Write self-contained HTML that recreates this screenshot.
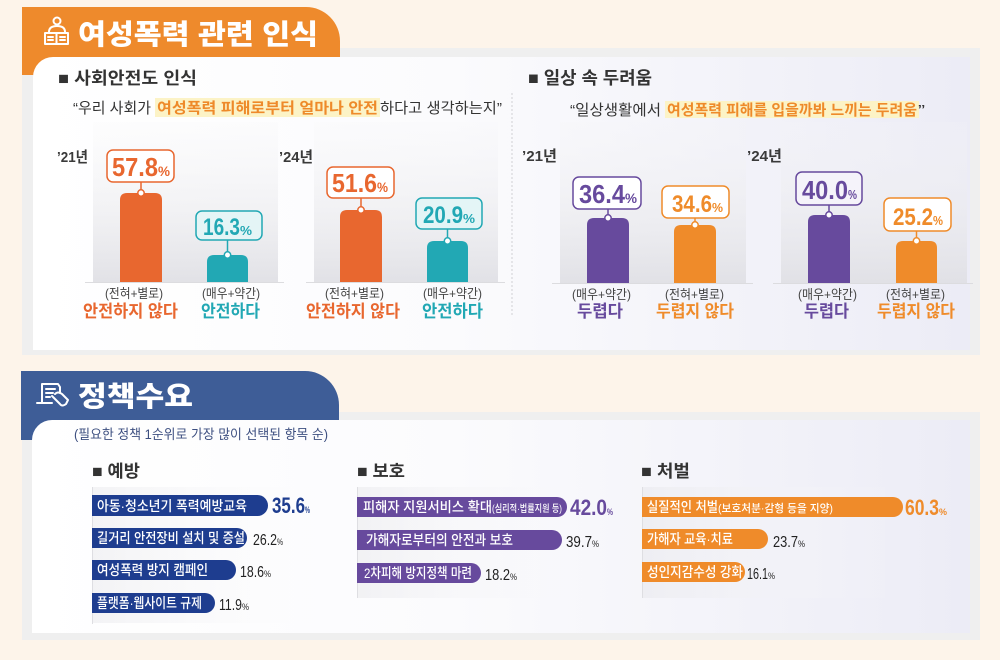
<!DOCTYPE html>
<html><head><meta charset="utf-8">
<style>
html,body{margin:0;padding:0;background:#fdf4ea;}
svg{display:block;}
text{font-family:"Liberation Sans","Noto Sans CJK KR",sans-serif;}
</style></head>
<body>
<svg width="1000" height="660" viewBox="0 0 1000 660" xmlns="http://www.w3.org/2000/svg">
<defs>
<linearGradient id="card" x1="0" y1="0" x2="1" y2="0">
<stop offset="0" stop-color="#ffffff"/><stop offset="0.45" stop-color="#fbfbfd"/><stop offset="1" stop-color="#ececf6"/>
</linearGradient>
<linearGradient id="pan" x1="0" y1="0" x2="0" y2="1">
<stop offset="0" stop-color="#f4f4f6" stop-opacity="0.15"/><stop offset="0.5" stop-color="#ececef" stop-opacity="0.6"/><stop offset="1" stop-color="#e0e0e5" stop-opacity="0.95"/>
</linearGradient>
<linearGradient id="rowg" x1="0" y1="0" x2="1" y2="0">
<stop offset="0" stop-color="#e6e6ea" stop-opacity="0.8"/><stop offset="1" stop-color="#ffffff" stop-opacity="0"/>
</linearGradient>
</defs>

<rect x="0" y="0" width="1000" height="660" fill="#fdf4ea"/>

<!-- TOP SECTION -->
<rect x="22" y="48" width="958" height="307" fill="#efefef"/>
<path d="M22,75 V7 H306 A34,34 0 0 1 340,41 V75 Z" fill="#ee8a2c"/>
<path d="M33,77 A20,20 0 0 1 53,57 H970 V350 H33 Z" fill="url(#card)"/>
<!-- icon -->
<g stroke="#fff" stroke-width="2" fill="none" stroke-linecap="round" stroke-linejoin="round">
<circle cx="57" cy="21" r="3.5"/>
<path d="M49,32 Q49,26 57,26 Q65,26 65,32"/>
<path d="M45,33 H68 V44 H45 Z"/>
<path d="M56.5,33 V44"/>
<path d="M48,37 H53 M48,40 H53 M60,37 H65 M60,40 H65"/>
</g>
<text x="78" y="44" font-size="28" font-weight="900" fill="#fff" textLength="240" lengthAdjust="spacingAndGlyphs">여성폭력 관련 인식</text>

<text x="58" y="84" font-size="17" font-weight="bold" fill="#333" textLength="139" lengthAdjust="spacingAndGlyphs">■ 사회안전도 인식</text>
<rect x="155" y="98" width="225" height="19" fill="#fcf3c6"/>
<text x="73" y="113" font-size="15" fill="#333" textLength="78" lengthAdjust="spacingAndGlyphs">“우리 사회가</text>
<text x="157" y="113" font-size="15" font-weight="bold" fill="#ee8a2a" textLength="221" lengthAdjust="spacingAndGlyphs">여성폭력 피해로부터 얼마나 안전</text>
<text x="380" y="113" font-size="15" fill="#333" textLength="122" lengthAdjust="spacingAndGlyphs">하다고 생각하는지”</text>

<text x="528" y="84" font-size="17.5" font-weight="bold" fill="#333" textLength="124" lengthAdjust="spacingAndGlyphs">■ 일상 속 두려움</text>
<rect x="665" y="101" width="254" height="17" fill="#fcf3c6"/>
<text x="570" y="115" font-size="15" fill="#333" textLength="91" lengthAdjust="spacingAndGlyphs">“일상생활에서</text>
<text x="667" y="115" font-size="15" font-weight="bold" fill="#ee8a2a" textLength="250" lengthAdjust="spacingAndGlyphs">여성폭력 피해를 입을까봐 느끼는 두려움</text>
<text x="918" y="115" font-size="15" fill="#333" textLength="7" lengthAdjust="spacingAndGlyphs">”</text>

<line x1="512" y1="93" x2="512" y2="317" stroke="#d0d0d4" stroke-width="1" stroke-dasharray="2,2"/>

<!-- panels -->
<rect x="93" y="122" width="185" height="160" fill="url(#pan)"/>
<rect x="314" y="122" width="184" height="160" fill="url(#pan)"/>
<rect x="560" y="122" width="186" height="161" fill="url(#pan)"/>
<rect x="781" y="122" width="186" height="161" fill="url(#pan)"/>
<line x1="85" y1="282.5" x2="284" y2="282.5" stroke="#dcdcdf"/>
<line x1="306" y1="282.5" x2="505" y2="282.5" stroke="#dcdcdf"/>
<line x1="552" y1="283.5" x2="753" y2="283.5" stroke="#dcdcdf"/>
<line x1="773" y1="283.5" x2="973" y2="283.5" stroke="#dcdcdf"/>

<!-- years -->
<g font-size="15" font-weight="bold" fill="#3a3a3a">
<text x="57" y="162" textLength="31" lengthAdjust="spacingAndGlyphs">’21년</text>
<text x="279" y="162" textLength="34" lengthAdjust="spacingAndGlyphs">’24년</text>
<text x="522" y="161" textLength="35" lengthAdjust="spacingAndGlyphs">’21년</text>
<text x="747" y="161" textLength="35" lengthAdjust="spacingAndGlyphs">’24년</text>
</g>

<!-- bars -->
<path d="M120,282 V200 Q120,193 127,193 H155 Q162,193 162,200 V282 Z" fill="#e8672f"/>
<path d="M207,282 V262 Q207,255 214,255 H241 Q248,255 248,262 V282 Z" fill="#22a8b4"/>
<path d="M340,282 V217 Q340,210 347,210 H375 Q382,210 382,217 V282 Z" fill="#e8672f"/>
<path d="M427,282 V248 Q427,241 434,241 H461 Q468,241 468,248 V282 Z" fill="#22a8b4"/>
<path d="M587,283 V225 Q587,218 594,218 H622 Q629,218 629,225 V283 Z" fill="#674a9d"/>
<path d="M674,283 V232 Q674,225 681,225 H709 Q716,225 716,232 V283 Z" fill="#ef8b2a"/>
<path d="M808,283 V222 Q808,215 815,215 H843 Q850,215 850,222 V283 Z" fill="#674a9d"/>
<path d="M896,283 V248 Q896,241 903,241 H930 Q937,241 937,248 V283 Z" fill="#ef8b2a"/>

<!-- value boxes -->
<g stroke-width="1.5">
<rect x="107" y="150" width="67" height="32" rx="6" fill="#fff" stroke="#e8672f"/>
<line x1="141" y1="182" x2="141" y2="193" stroke="#e8672f"/>
<circle cx="141" cy="193" r="3.2" fill="#fff" stroke="#e8672f"/>
<rect x="196" y="211" width="66" height="29" rx="6" fill="#e4f5f6" stroke="#22a8b4"/>
<line x1="227.5" y1="240" x2="227.5" y2="255" stroke="#22a8b4"/>
<circle cx="227.5" cy="255" r="3.2" fill="#fff" stroke="#22a8b4"/>
<rect x="327" y="167" width="67" height="31" rx="6" fill="#fff" stroke="#e8672f"/>
<line x1="361" y1="198" x2="361" y2="210" stroke="#e8672f"/>
<circle cx="361" cy="210" r="3.2" fill="#fff" stroke="#e8672f"/>
<rect x="416" y="198" width="66" height="31" rx="6" fill="#e4f5f6" stroke="#22a8b4"/>
<line x1="447.5" y1="229" x2="447.5" y2="241" stroke="#22a8b4"/>
<circle cx="447.5" cy="241" r="3.2" fill="#fff" stroke="#22a8b4"/>
<rect x="573" y="177" width="68" height="32" rx="6" fill="#fff" stroke="#674a9d"/>
<line x1="608" y1="209" x2="608" y2="218" stroke="#674a9d"/>
<circle cx="608" cy="218" r="3.2" fill="#fff" stroke="#674a9d"/>
<rect x="662" y="186" width="67" height="32" rx="6" fill="#fff" stroke="#ef8b2a"/>
<line x1="695" y1="218" x2="695" y2="225" stroke="#ef8b2a"/>
<circle cx="695" cy="225" r="3.2" fill="#fff" stroke="#ef8b2a"/>
<rect x="796" y="172" width="66" height="33" rx="6" fill="#f5f3fa" stroke="#674a9d"/>
<line x1="829" y1="205" x2="829" y2="215" stroke="#674a9d"/>
<circle cx="829" cy="215" r="3.2" fill="#fff" stroke="#674a9d"/>
<rect x="884" y="198" width="67" height="33" rx="6" fill="#fff" stroke="#ef8b2a"/>
<line x1="916.5" y1="231" x2="916.5" y2="241" stroke="#ef8b2a"/>
<circle cx="916.5" cy="241" r="3.2" fill="#fff" stroke="#ef8b2a"/>
</g>
<g font-weight="bold">
<text x="112" y="176" font-size="26" fill="#e8672f" textLength="46" lengthAdjust="spacingAndGlyphs">57.8</text>
<text x="158" y="176" font-size="14" fill="#e8672f" textLength="12" lengthAdjust="spacingAndGlyphs">%</text>
<text x="203" y="235" font-size="24" fill="#22a8b4" textLength="37" lengthAdjust="spacingAndGlyphs">16.3</text>
<text x="240" y="235" font-size="13" fill="#22a8b4" textLength="12" lengthAdjust="spacingAndGlyphs">%</text>
<text x="332" y="192" font-size="26" fill="#e8672f" textLength="45" lengthAdjust="spacingAndGlyphs">51.6</text>
<text x="377" y="192" font-size="14" fill="#e8672f" textLength="11" lengthAdjust="spacingAndGlyphs">%</text>
<text x="423" y="223" font-size="24" fill="#22a8b4" textLength="40" lengthAdjust="spacingAndGlyphs">20.9</text>
<text x="463" y="223" font-size="13" fill="#22a8b4" textLength="12" lengthAdjust="spacingAndGlyphs">%</text>
<text x="579" y="203" font-size="26" fill="#674a9d" textLength="46" lengthAdjust="spacingAndGlyphs">36.4</text>
<text x="625" y="203" font-size="14" fill="#674a9d" textLength="12" lengthAdjust="spacingAndGlyphs">%</text>
<text x="672" y="212" font-size="24" fill="#ef8b2a" textLength="40" lengthAdjust="spacingAndGlyphs">34.6</text>
<text x="712" y="212" font-size="13" fill="#ef8b2a" textLength="11" lengthAdjust="spacingAndGlyphs">%</text>
<text x="802" y="199" font-size="26" fill="#674a9d" textLength="46" lengthAdjust="spacingAndGlyphs">40.0</text>
<text x="848" y="199" font-size="13" fill="#674a9d" textLength="9" lengthAdjust="spacingAndGlyphs">%</text>
<text x="893" y="225" font-size="24" fill="#ef8b2a" textLength="40" lengthAdjust="spacingAndGlyphs">25.2</text>
<text x="933" y="225" font-size="13" fill="#ef8b2a" textLength="10" lengthAdjust="spacingAndGlyphs">%</text>
</g>

<!-- labels -->
<g font-size="13" fill="#444" text-anchor="middle">
<text x="134" y="298" textLength="58" lengthAdjust="spacingAndGlyphs">(전혀+별로)</text>
<text x="231" y="298" textLength="58" lengthAdjust="spacingAndGlyphs">(매우+약간)</text>
<text x="354.5" y="298" textLength="59" lengthAdjust="spacingAndGlyphs">(전혀+별로)</text>
<text x="452.5" y="298" textLength="59" lengthAdjust="spacingAndGlyphs">(매우+약간)</text>
<text x="601.5" y="299" textLength="59" lengthAdjust="spacingAndGlyphs">(매우+약간)</text>
<text x="694.5" y="299" textLength="59" lengthAdjust="spacingAndGlyphs">(전혀+별로)</text>
<text x="827.5" y="299" textLength="59" lengthAdjust="spacingAndGlyphs">(매우+약간)</text>
<text x="915.5" y="299" textLength="59" lengthAdjust="spacingAndGlyphs">(전혀+별로)</text>
</g>
<g font-size="17" font-weight="bold" text-anchor="middle">
<text x="130.5" y="317" fill="#e8672f" textLength="95" lengthAdjust="spacingAndGlyphs">안전하지 않다</text>
<text x="230.5" y="317" fill="#22a8b4" textLength="59" lengthAdjust="spacingAndGlyphs">안전하다</text>
<text x="353" y="317" fill="#e8672f" textLength="94" lengthAdjust="spacingAndGlyphs">안전하지 않다</text>
<text x="452.5" y="317" fill="#22a8b4" textLength="61" lengthAdjust="spacingAndGlyphs">안전하다</text>
<text x="600" y="317" fill="#674a9d" textLength="46" lengthAdjust="spacingAndGlyphs">두렵다</text>
<text x="695" y="317" fill="#ef8b2a" textLength="78" lengthAdjust="spacingAndGlyphs">두렵지 않다</text>
<text x="826.5" y="317" fill="#674a9d" textLength="45" lengthAdjust="spacingAndGlyphs">두렵다</text>
<text x="916" y="317" fill="#ef8b2a" textLength="78" lengthAdjust="spacingAndGlyphs">두렵지 않다</text>
</g>

<!-- BOTTOM SECTION -->
<rect x="22" y="412" width="958" height="228" fill="#efefef"/>
<path d="M21,440 V371 H305 A34,34 0 0 1 339,405 V440 Z" fill="#3e5d97"/>
<path d="M32,440 A20,20 0 0 1 52,420 H970 V633 H32 Z" fill="url(#card)"/>
<g stroke="#fff" stroke-width="2" fill="none" stroke-linecap="round" stroke-linejoin="round">
<path d="M42,403 V384 H58 L60,387 V393"/>
<path d="M46,389 H55 M46,393 H53 M46,397 H50"/>
<path d="M37,403 H52"/>
<path d="M52,396 L60,404 Q62,407 66,404 L68,400 L62,394 Q58,391 55,394"/>
</g>
<text x="78" y="406" font-size="28" font-weight="900" fill="#fff" textLength="115" lengthAdjust="spacingAndGlyphs">정책수요</text>
<text x="74" y="439" font-size="13.5" fill="#3d4f80" textLength="254" lengthAdjust="spacingAndGlyphs">(필요한 정책 1순위로 가장 많이 선택된 항목 순)</text>

<g font-size="17" font-weight="bold" fill="#333">
<text x="92" y="477" textLength="48" lengthAdjust="spacingAndGlyphs">■ 예방</text>
<text x="357" y="477" textLength="48" lengthAdjust="spacingAndGlyphs">■ 보호</text>
<text x="641" y="477" textLength="49" lengthAdjust="spacingAndGlyphs">■ 처벌</text>
</g>

<rect x="92" y="487" width="250" height="136" fill="url(#rowg)" opacity="0.6"/>
<rect x="357" y="487" width="260" height="111" fill="url(#rowg)" opacity="0.6"/>
<rect x="642" y="487" width="260" height="111" fill="url(#rowg)" opacity="0.6"/>
<line x1="92.5" y1="487" x2="92.5" y2="624" stroke="#dedee2"/>
<line x1="357.5" y1="487" x2="357.5" y2="598" stroke="#dedee2"/>
<line x1="642.5" y1="487" x2="642.5" y2="598" stroke="#dedee2"/>

<!-- 예방 bars -->
<path d="M92,495 H257.5 A10.5,10.5 0 0 1 257.5,516 H92 Z" fill="#1e3d8f"/>
<path d="M92,528 H237 A10,10 0 0 1 237,548 H92 Z" fill="#1e3d8f"/>
<path d="M92,560 H226 A10,10 0 0 1 226,580 H92 Z" fill="#1e3d8f"/>
<path d="M92,593 H205 A10,10 0 0 1 205,613 H92 Z" fill="#1e3d8f"/>
<!-- 보호 bars -->
<path d="M357,497 H557 A10,10 0 0 1 557,517 H357 Z" fill="#674a9d"/>
<path d="M357,530 H552 A10,10 0 0 1 552,550 H357 Z" fill="#674a9d"/>
<path d="M357,563 H471 A10,10 0 0 1 471,583 H357 Z" fill="#674a9d"/>
<!-- 처벌 bars -->
<path d="M642,497 H893 A10,10 0 0 1 893,517 H642 Z" fill="#ef8b2a"/>
<path d="M642,529 H758 A10,10 0 0 1 758,549 H642 Z" fill="#ef8b2a"/>
<path d="M642,562 H735 A10,10 0 0 1 735,582 H642 Z" fill="#ef8b2a"/>

<g font-size="14" fill="#fff" font-weight="500">
<text x="97" y="511" textLength="150" lengthAdjust="spacingAndGlyphs">아동·청소년기 폭력예방교육</text>
<text x="97" y="543" textLength="148" lengthAdjust="spacingAndGlyphs">길거리 안전장비 설치 및 증설</text>
<text x="97" y="575" textLength="111" lengthAdjust="spacingAndGlyphs">여성폭력 방지 캠페인</text>
<text x="97" y="608" textLength="105" lengthAdjust="spacingAndGlyphs">플랫폼·웹사이트 규제</text>
<text x="363" y="512" textLength="129" lengthAdjust="spacingAndGlyphs">피해자 지원서비스 확대</text>
<text x="492" y="512" font-size="10" textLength="70" lengthAdjust="spacingAndGlyphs">(심리적·법률지원 등)</text>
<text x="366" y="545" textLength="147" lengthAdjust="spacingAndGlyphs">가해자로부터의 안전과 보호</text>
<text x="364" y="578" textLength="108" lengthAdjust="spacingAndGlyphs">2차피해 방지정책 마련</text>
<text x="647" y="512" textLength="71" lengthAdjust="spacingAndGlyphs">실질적인 처벌</text>
<text x="718" y="512" font-size="11" textLength="115" lengthAdjust="spacingAndGlyphs">(보호처분·감형 등을 지양)</text>
<text x="647" y="544" textLength="86" lengthAdjust="spacingAndGlyphs">가해자 교육·치료</text>
<text x="647" y="577" textLength="96" lengthAdjust="spacingAndGlyphs">성인지감수성 강화</text>
</g>

<!-- values -->
<text x="272" y="513" font-size="22" font-weight="bold" fill="#1e3d8f" textLength="33" lengthAdjust="spacingAndGlyphs">35.6</text>
<text x="305" y="513" font-size="9" font-weight="bold" fill="#1e3d8f" textLength="5" lengthAdjust="spacingAndGlyphs">%</text>
<text x="570" y="515" font-size="22" font-weight="bold" fill="#674a9d" textLength="37" lengthAdjust="spacingAndGlyphs">42.0</text>
<text x="607" y="515" font-size="9" font-weight="bold" fill="#674a9d" textLength="6" lengthAdjust="spacingAndGlyphs">%</text>
<text x="905" y="515" font-size="22" font-weight="bold" fill="#ef8b2a" textLength="34" lengthAdjust="spacingAndGlyphs">60.3</text>
<text x="939" y="515" font-size="9" font-weight="bold" fill="#ef8b2a" textLength="8" lengthAdjust="spacingAndGlyphs">%</text>
<g fill="#222">
<text x="253" y="545" font-size="16" textLength="24" lengthAdjust="spacingAndGlyphs">26.2</text>
<text x="277" y="545" font-size="9" textLength="6" lengthAdjust="spacingAndGlyphs">%</text>
<text x="240" y="577" font-size="16" textLength="24" lengthAdjust="spacingAndGlyphs">18.6</text>
<text x="264" y="577" font-size="9" textLength="7" lengthAdjust="spacingAndGlyphs">%</text>
<text x="219" y="610" font-size="16" textLength="23" lengthAdjust="spacingAndGlyphs">11.9</text>
<text x="242" y="610" font-size="9" textLength="7" lengthAdjust="spacingAndGlyphs">%</text>
<text x="566" y="547" font-size="16" textLength="26" lengthAdjust="spacingAndGlyphs">39.7</text>
<text x="592" y="547" font-size="9" textLength="7" lengthAdjust="spacingAndGlyphs">%</text>
<text x="485" y="580" font-size="16" textLength="25" lengthAdjust="spacingAndGlyphs">18.2</text>
<text x="510" y="580" font-size="9" textLength="7" lengthAdjust="spacingAndGlyphs">%</text>
<text x="773" y="547" font-size="16" textLength="25" lengthAdjust="spacingAndGlyphs">23.7</text>
<text x="798" y="547" font-size="9" textLength="7" lengthAdjust="spacingAndGlyphs">%</text>
<text x="747" y="579" font-size="16" textLength="21" lengthAdjust="spacingAndGlyphs">16.1</text>
<text x="768" y="579" font-size="9" textLength="7" lengthAdjust="spacingAndGlyphs">%</text>
</g>
</svg>
</body></html>
